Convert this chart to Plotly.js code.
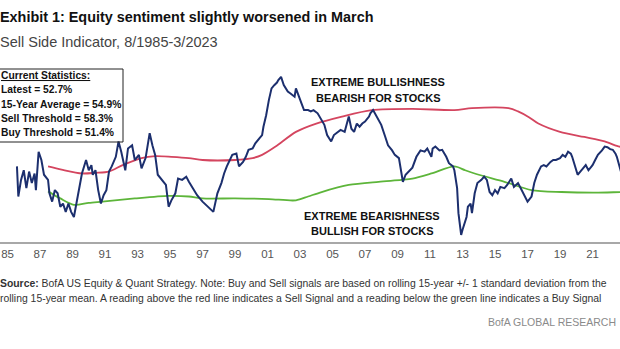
<!DOCTYPE html>
<html>
<head>
<meta charset="utf-8">
<script src="https://cdn.plot.ly/plotly-3.0.1.min.js"></script>
<style>
  html, body { margin: 0; padding: 0; background: #ffffff; }
  #chart { width: 620px; height: 349px; }
</style>
</head>
<body>
<div id="chart"></div>
<script>
// ---- Data ----
const sentimentDates = [
  "1985-08","1985-09","1985-11","1986-01","1986-03","1986-05","1986-07","1986-09","1986-10","1986-12",
  "1987-02","1987-04","1987-07","1987-08","1987-10","1987-12","1988-02","1988-04","1988-06","1988-08",
  "1988-10","1988-12","1989-02","1989-04","1989-06","1989-08","1989-11","1990-01","1990-03","1990-04",
  "1990-06","1990-08","1990-10","1990-12","1991-02","1991-04","1991-06","1991-09","1991-11","1992-01",
  "1992-04","1992-06","1992-09","1992-11","1993-02","1993-04","1993-07","1993-10","1993-12","1994-02",
  "1994-04","1994-07","1994-10","1994-12","1995-02","1995-05","1995-07","1995-10","1996-01","1996-03",
  "1996-06","1996-09","1997-01","1997-04","1997-06","1997-09","1997-12","1998-03","1998-05","1998-07",
  "1998-11","1999-02","1999-04","1999-07","1999-09","1999-11","2000-02","2000-04","2000-07","2000-09",
  "2000-10","2000-12","2001-02","2001-04","2001-06","2001-08","2001-09","2001-11","2002-01","2002-03",
  "2002-04","2002-06","2002-09","2002-10","2002-12","2003-02","2003-04","2003-07","2003-09","2003-11",
  "2004-02","2004-04","2004-07","2004-09","2004-12","2005-02","2005-05","2005-07","2005-10","2005-11",
  "2006-01","2006-03","2006-05","2006-07","2006-09","2006-11","2007-01","2007-04","2007-05","2007-07",
  "2007-09","2007-11","2008-01","2008-04","2008-06","2008-09","2008-11","2009-02","2009-03","2009-05",
  "2009-07","2009-09","2009-12","2010-03","2010-06","2010-09","2010-11","2011-02","2011-03","2011-05",
  "2011-08","2011-10","2012-01","2012-03","2012-06","2012-07","2012-09","2012-10","2012-12","2013-01",
  "2013-04","2013-05","2013-07","2013-08","2013-10","2013-12","2014-03","2014-05","2014-07","2014-09",
  "2014-11","2015-01","2015-03","2015-05","2015-08","2015-10","2016-01","2016-03","2016-06","2016-08",
  "2016-10","2017-01","2017-04","2017-06","2017-08","2017-11","2018-01","2018-03","2018-06","2018-08",
  "2018-10","2019-01","2019-03","2019-05","2019-07","2019-09","2019-10","2019-12","2020-02","2020-04",
  "2020-06","2020-08","2020-10","2021-01","2021-03","2021-05","2021-08","2021-10","2021-12","2022-02",
  "2022-04","2022-06","2022-07","2022-09","2022-10","2022-12","2023-01","2023-03"
];
const sentiment = [
  55.4,50.7,53.3,54.8,52.0,54.6,52.8,54.3,51.7,57.7,
  56.4,54.1,53.3,51.2,49.9,51.7,51.2,49.1,49.6,48.3,
  49.6,48.3,47.5,49.9,52.2,54.3,56.4,54.8,55.6,54.1,
  54.8,51.7,49.6,50.9,51.7,54.6,55.4,56.9,59.3,57.7,
  54.8,58.2,58.7,56.4,57.2,55.1,56.7,60.6,58.7,57.2,
  54.1,53.3,52.5,49.1,50.1,51.2,53.5,53.3,53.8,53.0,
  52.0,50.9,49.9,49.3,49.0,48.3,51.2,52.8,54.3,55.4,
  57.2,57.4,55.4,56.1,56.9,58.0,58.2,59.0,59.8,60.3,
  61.6,63.4,65.8,67.6,68.1,68.5,68.9,69.4,68.1,67.3,
  67.1,66.8,66.3,67.6,66.3,65.3,64.2,64.2,64.0,64.2,
  63.7,62.9,61.9,60.3,59.3,60.3,60.8,61.1,60.8,61.6,
  63.2,61.3,60.8,62.1,61.6,62.1,62.4,63.2,63.7,64.2,
  63.4,62.6,61.9,60.0,58.7,57.9,57.2,56.7,55.6,53.0,
  54.1,54.6,55.2,56.9,57.9,57.7,58.2,56.9,58.2,58.5,
  57.9,58.0,56.9,55.9,55.4,54.8,52.0,48.1,44.7,45.5,
  47.5,49.1,49.6,48.1,51.2,52.8,53.3,53.8,53.3,51.4,
  50.9,51.7,51.2,52.2,52.0,52.5,53.5,52.2,52.8,52.0,
  51.2,49.9,50.7,52.8,54.1,55.4,55.6,55.4,56.1,56.4,
  56.4,56.7,57.2,56.9,57.7,57.4,56.9,55.4,54.1,54.6,
  55.1,55.6,54.8,55.6,56.4,57.2,57.9,58.5,58.4,58.1,
  58.0,57.4,56.9,55.4,54.6,53.9,53.3,52.7
];

const sellDates = [
  "1987-07","1988-05","1989-08","1990-06","1991-04","1992-02","1993-04","1994-02","1995-02","1996-03",
  "1997-01","1999-01","2000-02","2000-09","2001-07","2002-10","2004-01","2005-08","2007-06","2009-12",
  "2012-07","2013-08","2015-11","2016-06","2017-02","2017-09","2019-01","2020-07","2021-10","2022-07",
  "2022-11","2023-03"
];
const sellThreshold = [
  55.4,54.9,54.3,54.4,54.6,55.6,56.7,57.0,56.9,56.7,
  56.4,56.4,56.7,57.2,58.5,60.8,62.1,63.2,64.2,64.4,
  64.2,64.5,64.5,64.0,63.1,62.1,60.8,60.0,59.3,58.6,
  58.4,58.3
];

const buyDates = [
  "1987-07","1988-04","1989-02","1990-01","1990-11","1992-11","1994-12","1996-03","1997-01","1999-01",
  "2001-02","2002-10","2003-07","2004-05","2006-01","2007-11","2009-04","2009-12","2011-02","2012-07",
  "2013-03","2014-01","2015-08","2017-04","2019-02","2021-03","2022-11","2023-03"
];
const buyThreshold = [
  51.5,50.4,49.4,49.7,49.9,50.4,50.8,50.7,50.4,50.4,
  50.3,50.1,50.7,51.4,52.5,53.0,53.3,53.5,54.3,55.4,
  54.8,54.1,53.0,51.7,51.4,51.3,51.4,51.4
];

const tickDates = [
  "1985-01-01","1987-01-01","1989-01-01","1991-01-01","1993-01-01","1995-01-01","1997-01-01",
  "1999-01-01","2001-01-01","2003-01-01","2005-01-01","2007-01-01","2009-01-01","2011-01-01",
  "2013-01-01","2015-01-01","2017-01-01","2019-01-01","2021-01-01"
];
const tickLabels = ["85","87","89","91","93","95","97","99","01","03","05","07","09","11","13","15","17","19","21"];

const statsLines = [
  "<u>Current Statistics:</u>",
  "Latest = 52.7%",
  "15-Year Average = 54.9%",
  "Sell Threshold = 58.3%",
  "Buy Threshold = 51.4%"
];

// ---- Styling ----
const SANS = "'Liberation Sans', Arial, sans-serif";
const W = 620, PLOT_TOP = 60, PLOT_BOTTOM = 242, PLOT_H = PLOT_BOTTOM - PLOT_TOP;
const px = x => x / W;
const py = y => (PLOT_BOTTOM - y) / PLOT_H;

const traces = [
  { x: sellDates, y: sellThreshold, type: 'scatter', mode: 'lines',
    line: { color: '#d4455f', width: 1.8, shape: 'spline', smoothing: 0.8 }, hoverinfo: 'skip' },
  { x: buyDates, y: buyThreshold, type: 'scatter', mode: 'lines',
    line: { color: '#5db53a', width: 1.8, shape: 'spline', smoothing: 0.8 }, hoverinfo: 'skip' },
  { x: sentimentDates, y: sentiment, type: 'scatter', mode: 'lines',
    line: { color: '#1c2f6e', width: 2 }, hoverinfo: 'skip' }
];

const ann = [];
function addText(text, x, y, opts) {
  ann.push(Object.assign({
    text: text, x: px(x), y: py(y), xref: 'paper', yref: 'paper',
    showarrow: false, xanchor: 'left', yanchor: 'middle',
    font: { family: SANS, size: 12, color: '#000' }
  }, opts || {}));
}

addText("<b>Exhibit 1: Equity sentiment slightly worsened in March</b>", -2, 17,
  { font: { family: SANS, size: 14.4, color: '#111' } });
addText("Sell Side Indicator, 8/1985-3/2023", -2, 42,
  { font: { family: SANS, size: 14.5, color: '#444' } });

const statsY = [75, 89.5, 104, 118, 132];
statsLines.forEach((t, i) => {
  addText("<b>" + t + "</b>", -1, statsY[i], { font: { family: SANS, size: 10.3, color: '#111' } });
});

const labelFont = { family: SANS, size: 11, color: '#111' };
addText("<b>EXTREME BULLISHNESS</b>", 378, 82, { xanchor: 'center', font: labelFont });
addText("<b>BEARISH FOR STOCKS</b>", 378, 98, { xanchor: 'center', font: labelFont });
addText("<b>EXTREME BEARISHNESS</b>", 372, 216, { xanchor: 'center', font: labelFont });
addText("<b>BULLISH FOR STOCKS</b>", 372, 231, { xanchor: 'center', font: labelFont });

const noteFont = { family: SANS, size: 10.4, color: '#333' };
addText("<b>Source:</b> BofA US Equity &amp; Quant Strategy. Note: Buy and Sell signals are based on rolling 15-year +/- 1 standard deviation from the",
  -2, 283, { font: noteFont });
addText("rolling 15-year mean. A reading above the red line indicates a Sell Signal and a reading below the green line indicates a Buy Signal",
  -2, 298, { font: noteFont });
addText("BofA GLOBAL RESEARCH", 618, 322, { xanchor: 'right', font: { family: SANS, size: 10.5, color: '#8a8a8a' } });

const layout = {
  width: 620, height: 349,
  margin: { l: 0, r: 0, t: PLOT_TOP, b: 349 - PLOT_BOTTOM, pad: 0 },
  paper_bgcolor: '#ffffff', plot_bgcolor: '#ffffff',
  showlegend: false,
  xaxis: {
    type: 'date', range: ['1984-07-16', '2022-09-10'],
    tickmode: 'array', tickvals: tickDates, ticktext: tickLabels,
    showgrid: false, zeroline: false, showline: true,
    linecolor: '#a8a8a8', linewidth: 2, ticks: '',
    tickfont: { family: SANS, size: 11.5, color: '#555' }
  },
  yaxis: { range: [43.59, 72.03], visible: false, showgrid: false, zeroline: false },
  annotations: ann,
  shapes: [{
    type: 'rect', xref: 'paper', yref: 'paper',
    x0: px(-8), x1: px(123), y0: py(142), y1: py(69),
    line: { color: '#222', width: 1 }, fillcolor: 'rgba(255,255,255,0)'
  }]
};

Plotly.newPlot('chart', traces, layout, { staticPlot: true, displayModeBar: false });
</script>
</body>
</html>
